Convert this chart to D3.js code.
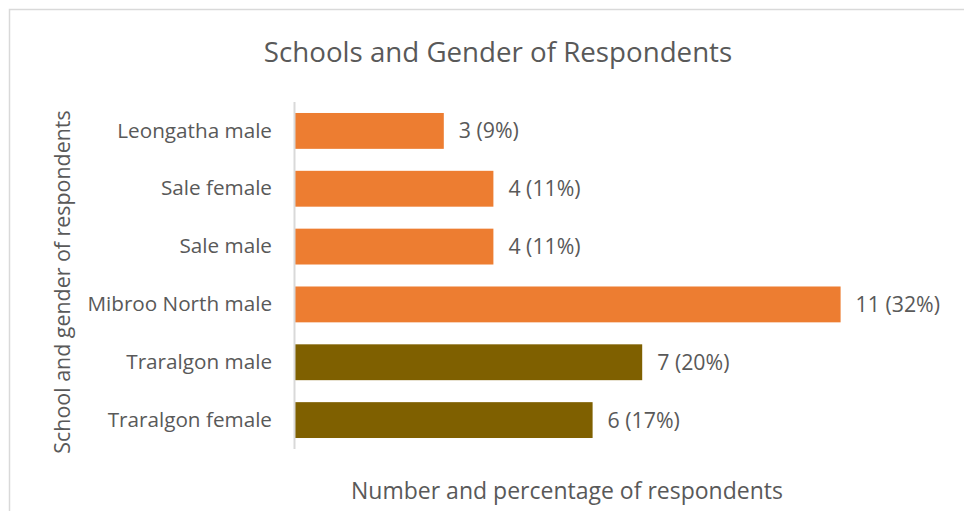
<!DOCTYPE html>
<html>
<head>
<meta charset="utf-8">
<script src="https://cdn.jsdelivr.net/npm/d3@7"></script>
<style>
  html, body { margin: 0; padding: 0; background: #fff; }
  svg { display: block; }
  text { font-family: "Open Sans", sans-serif; fill: #595959; }
</style>
</head>
<body>
<svg id="chart" width="964" height="511"></svg>
<script>
// Respondents by school and gender
const categories = ["Leongatha male", "Sale female", "Sale male", "Mibroo North male", "Traralgon male", "Traralgon female"];
const counts = [3, 4, 4, 11, 7, 6];
const percents = [9, 11, 11, 32, 20, 17];
const schoolGroup = ["other", "other", "other", "other", "Traralgon", "Traralgon"];

const colorOf = { other: "#ED7D31", Traralgon: "#7F6000" };

const svg = d3.select("#chart");
const W = 964, H = 511;

// outer chart frame
svg.append("rect")
  .attr("x", 9.5).attr("y", 9.5)
  .attr("width", W + 20).attr("height", H + 20)
  .attr("fill", "#fff").attr("stroke", "#d9d9d9").attr("stroke-width", 1.5);

const plot = { left: 295, top: 102, bottom: 449 };

const x = d3.scaleLinear().domain([0, 13]).range([plot.left, plot.left + 13 * 49.6]);
const y = d3.scaleBand().domain(categories).range([plot.top, plot.bottom]).paddingInner(0.38).paddingOuter(0.19);

const rows = categories.map((c, i) => ({ cat: c, n: counts[i], pct: percents[i], grp: schoolGroup[i] }));

// bars
svg.append("g").selectAll("rect").data(rows).join("rect")
  .attr("x", x(0))
  .attr("y", d => y(d.cat))
  .attr("width", d => x(d.n) - x(0))
  .attr("height", y.bandwidth())
  .attr("fill", d => colorOf[d.grp]);

// vertical category axis
const yAxis = svg.append("g").attr("transform", `translate(${x(0)},0)`)
  .call(d3.axisLeft(y).tickSize(0).tickPadding(23));
yAxis.select(".domain").attr("stroke", "#d9d9d9").attr("stroke-width", 2)
  .attr("d", `M-0.5,${plot.top}V${plot.bottom}`);
yAxis.selectAll(".tick text")
  .style("font-family", "'Open Sans', sans-serif")
  .attr("font-size", 20.7).attr("fill", "#595959");

// value labels
svg.append("g").selectAll("text").data(rows).join("text")
  .attr("x", d => x(d.n) + 15)
  .attr("y", d => y(d.cat) + y.bandwidth() / 2)
  .attr("dy", "0.35em")
  .attr("font-size", 21.3)
  .text(d => `${d.n} (${d.pct}%)`);

// titles
svg.append("text").attr("x", 498).attr("y", 62)
  .attr("text-anchor", "middle").attr("font-size", 27.7)
  .text("Schools and Gender of Respondents");

svg.append("text").attr("x", 567).attr("y", 499)
  .attr("text-anchor", "middle").attr("font-size", 23)
  .text("Number and percentage of respondents");

svg.append("text")
  .attr("transform", "translate(70,282) rotate(-90)")
  .attr("text-anchor", "middle").attr("font-size", 21.4)
  .text("School and gender of respondents");
</script>
</body>
</html>
